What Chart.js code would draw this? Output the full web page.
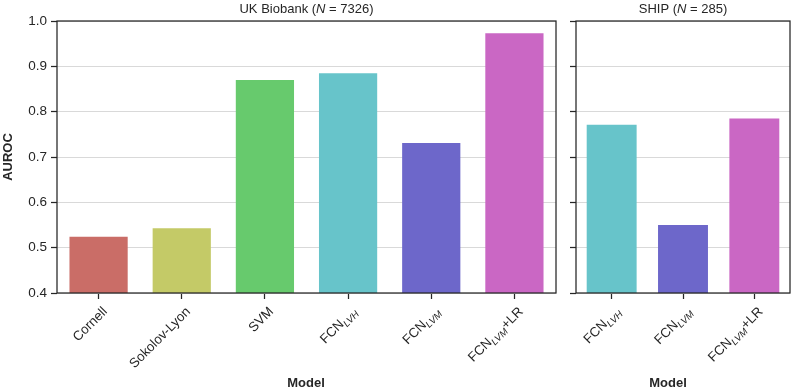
<!DOCTYPE html>
<html>
<head>
<meta charset="utf-8">
<script src="https://cdn.jsdelivr.net/npm/chart.js@4.4.0/dist/chart.umd.min.js"></script>
<style>
  body { margin: 0; background: #fff; }
  #wrap { position: relative; width: 791px; height: 390px; }
  canvas { position: absolute; top: 0; }
</style>
</head>
<body>
<div id="wrap">
  <canvas id="ukbChart" width="560" height="390" style="left:0"></canvas>
  <canvas id="shipChart" width="231" height="390" style="left:560px"></canvas>
</div>
<script>
// ---- data ----
const ukbModels = ['Cornell', 'Sokolov-Lyon', 'SVM', 'FCN_{LVH}', 'FCN_{LVM}', 'FCN_{LVM}+LR'];
const ukbAuroc = [0.524, 0.543, 0.870, 0.885, 0.731, 0.973];
const ukbColors = ['#ca6d67', '#c4ca67', '#67ca6d', '#67c4ca', '#6d67ca', '#ca67c4'];

const shipModels = ['FCN_{LVH}', 'FCN_{LVM}', 'FCN_{LVM}+LR'];
const shipAuroc = [0.771, 0.550, 0.785];
const shipColors = ['#67c4ca', '#6d67ca', '#ca67c4'];

const yMin = 0.4, yMax = 1.0, yStep = 0.1;

const FONT = "'Liberation Sans', Arial, Helvetica, sans-serif";
const INK = '#262626';

// "_{x}" = italic subscript, "*x*" = italic
function parseRich(str) {
    const parts = [];
    const re = /_\{([^}]*)\}|\*([^*]*)\*|([^_*]+)/g;
    let m;
    while ((m = re.exec(str))) {
        if (m[1] !== undefined) parts.push({ t: m[1], sub: true, it: true });
        else if (m[2] !== undefined) parts.push({ t: m[2], it: true });
        else parts.push({ t: m[3] });
    }
    return parts;
}

function partFont(p, size) {
    const s = p.sub ? size * 0.72 : size;
    return `${p.it ? 'italic ' : ''}${s}px ${FONT}`;
}

function drawRich(ctx, str, x, y, size, align) {
    const parts = parseRich(str);
    let w = 0;
    parts.forEach(p => { ctx.font = partFont(p, size); p.w = ctx.measureText(p.t).width; w += p.w; });
    let cx = align === 'right' ? x - w : align === 'center' ? x - w / 2 : x;
    ctx.textAlign = 'left';
    ctx.textBaseline = 'alphabetic';
    parts.forEach(p => {
        ctx.font = partFont(p, size);
        ctx.fillText(p.t, cx, y + (p.sub ? size * 0.25 : 0));
        cx += p.w;
    });
}

// frame, panel title, rotated tick labels with subscripts, "Model"
const panelDeco = {
    id: 'panelDeco',
    afterDraw(chart, args, opts) {
        const { ctx, chartArea: a, scales } = chart;
        ctx.save();
        ctx.strokeStyle = INK;
        ctx.lineWidth = 1.25;
        ctx.strokeRect(a.left, a.top, a.right - a.left, a.bottom - a.top);
        ctx.fillStyle = INK;
        drawRich(ctx, opts.title, (a.left + a.right) / 2, 12.5, 13, 'center');
        chart.data.labels.forEach((lab, i) => {
            const x = scales.x.getPixelForTick(i);
            ctx.save();
            ctx.translate(x + 6, a.bottom + 16);
            ctx.rotate(-Math.PI / 4);
            drawRich(ctx, lab, 0, 4.6, 13.3, 'right');
            ctx.restore();
        });
        ctx.font = `bold 13px ${FONT}`;
        ctx.textAlign = 'center';
        ctx.textBaseline = 'alphabetic';
        ctx.fillText('Model', opts.modelX, 386.5);
        ctx.restore();
    }
};

function makeChart(id, labels, values, colors, cfg) {
    return new Chart(document.getElementById(id), {
        type: 'bar',
        data: {
            labels: labels,
            datasets: [{
                data: values,
                backgroundColor: colors,
                barPercentage: 0.7,
                categoryPercentage: 1.0
            }]
        },
        plugins: [panelDeco],
        options: {
            responsive: false,
            animation: false,
            devicePixelRatio: 1,
            layout: { padding: { left: 0, right: cfg.padRight, top: 21, bottom: 0 } },
            plugins: {
                legend: { display: false },
                tooltip: { enabled: false },
                panelDeco: { title: cfg.title, modelX: cfg.modelX }
            },
            scales: {
                x: {
                    offset: true,
                    border: { display: false },
                    grid: { offset: false, drawOnChartArea: false, drawTicks: true, tickLength: 6, tickColor: INK, tickWidth: 1.25 },
                    ticks: { display: false },
                    afterFit: s => { s.height = 97; }
                },
                y: {
                    min: yMin,
                    max: yMax,
                    border: { display: false },
                    grid: { color: '#d9d9d9', lineWidth: 1, tickLength: 6, tickColor: INK, tickWidth: 1.25 },
                    ticks: {
                        stepSize: yStep,
                        padding: 4,
                        color: cfg.showTicks ? INK : 'rgba(0,0,0,0)',
                        font: { family: FONT, size: 13.5 },
                        callback: v => v.toFixed(1)
                    },
                    title: {
                        display: cfg.showTicks,
                        text: 'AUROC',
                        color: INK,
                        padding: { top: 1, bottom: 0 },
                        font: { family: FONT, size: 13, weight: 'bold' }
                    },
                    afterFit: s => { s.width = cfg.yWidth; }
                }
            }
        }
    });
}

makeChart('ukbChart', ukbModels, ukbAuroc, ukbColors,
    { title: 'UK Biobank (*N* = 7326)', modelX: 306, padRight: 4, yWidth: 57, showTicks: true });
makeChart('shipChart', shipModels, shipAuroc, shipColors,
    { title: 'SHIP (*N* = 285)', modelX: 108, padRight: 1, yWidth: 16, showTicks: false });
</script>
</body>
</html>
